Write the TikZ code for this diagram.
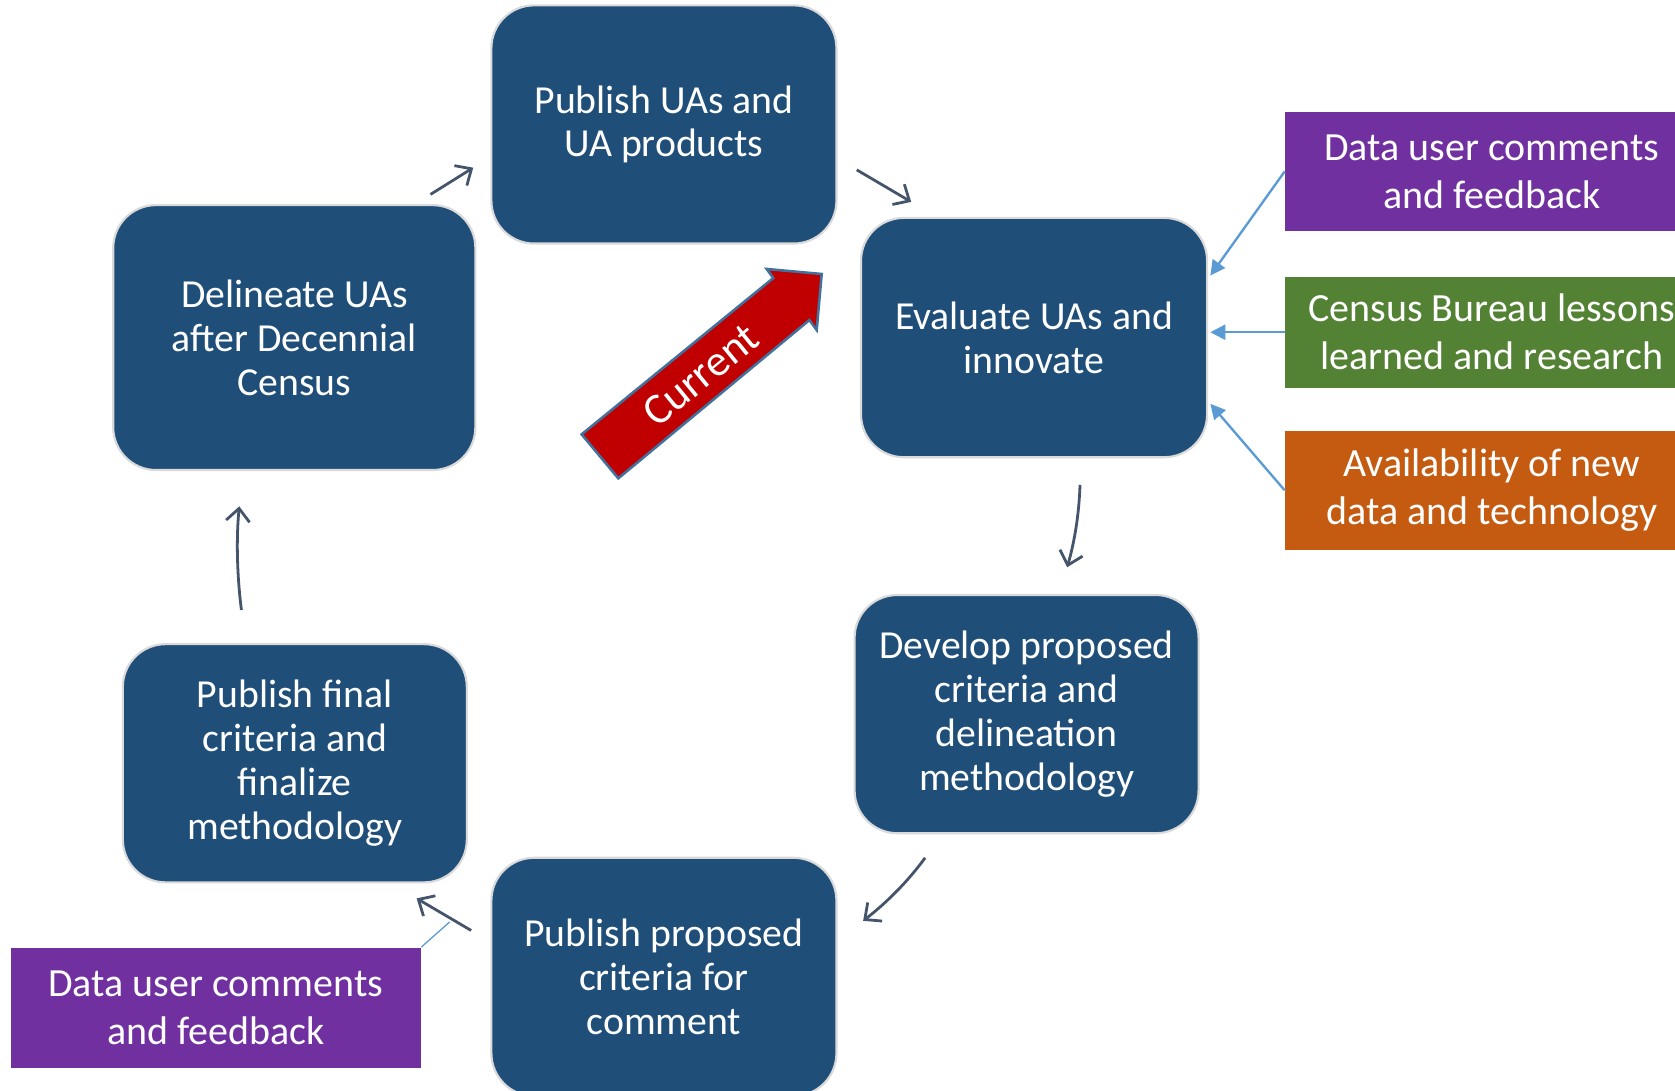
\documentclass[tikz,border=0pt]{standalone}
\usepackage{fontspec}
\setmainfont{Carlito}
\usetikzlibrary{arrows.meta,calc}
\definecolor{boxblue}{HTML}{1F4E79}
\definecolor{boxedge}{HTML}{DADADA}
\definecolor{flowc}{HTML}{44546A}
\definecolor{feedc}{HTML}{5B9BD5}
\definecolor{purp}{HTML}{7030A0}
\definecolor{grn}{HTML}{548235}
\definecolor{orng}{HTML}{C55A11}
\definecolor{curred}{HTML}{C00000}
\definecolor{curedge}{HTML}{41719C}
\tikzset{
  ubox/.style={draw=boxedge, line width=1pt, fill=boxblue, rounded corners=20pt,
    text=white, align=center, font=\fontsize{18.6}{20.5}\selectfont, inner sep=0pt},
  sidebox/.style={text=white, align=center, font=\fontsize{18.7}{22.5}\selectfont, inner sep=0pt},
  flow/.style={draw=flowc, line width=1.3pt, -{Straight Barb[length=6pt,width=11pt]}},
  feed/.style={draw=feedc, line width=1.1pt, -{Triangle[length=7pt,width=7pt]}},
}
\begin{document}
\begin{tikzpicture}[x=0.5pt,y=-0.5pt]
\useasboundingbox (0,0) rectangle (1568,1021);
\clip (0,0) rectangle (1568,1021);
\fill[white] (0,0) rectangle (1568,1021);

% main boxes
\node[ubox, minimum width=161.5pt, minimum height=111.5pt] (pub) at (621.5,116.5) {Publish UAs and\\UA products};
\node[ubox, minimum width=162pt, minimum height=112pt] (ev) at (968,316) {Evaluate UAs and\\innovate};
\node[ubox, minimum width=161pt, minimum height=111.5pt] (dev) at (961,668.5) {Develop proposed\\criteria and\\delineation\\methodology};
\node[ubox, minimum width=161.5pt, minimum height=111.5pt] (pp) at (621.5,914.5) {Publish proposed\\criteria for\\comment};
\node[ubox, minimum width=161pt, minimum height=111.5pt] (pf) at (276,714.5) {Publish final\\criteria and\\finalize\\methodology};
\node[ubox, minimum width=169.5pt, minimum height=124pt] (del) at (275.5,316) {Delineate UAs\\after Decennial\\Census};

% side boxes
\node[sidebox, fill=purp, minimum width=193.5pt, minimum height=55.5pt] (p1) at (1396.5,160.5) {Data user comments\\and feedback};
\node[sidebox, fill=grn, minimum width=193.5pt, minimum height=52pt] (g1) at (1396.5,311) {Census Bureau lessons\\learned and research};
\node[sidebox, fill=orng, minimum width=193.5pt, minimum height=56pt] (o1) at (1396.5,459) {Availability of new\\data and technology};
\node[sidebox, fill=purp, minimum width=192pt, minimum height=56.5pt] (p2) at (202,943.5) {Data user comments\\and feedback};

% feedback arrows
\coordinate (f1) at (1133,258);
\coordinate (f2) at (1133,311);
\coordinate (f3) at (1133,378);
\draw[feed] (p1.west) -- (f1);
\draw[feed] (g1.west) -- (f2);
\draw[feed] (o1.west) -- (f3);

% flow arrows
\coordinate (a1s) at (403,182); \coordinate (a1e) at (443,157);
\coordinate (a2s) at (802,159); \coordinate (a2e) at (853,189);
\coordinate (a3s) at (1011,454); \coordinate (a3e) at (999,531);
\coordinate (a4s) at (866,803); \coordinate (a4e) at (808,862);
\coordinate (a5s) at (441,871); \coordinate (a5e) at (390,841);
\coordinate (a6s) at (226,571); \coordinate (a6e) at (224,474);
\draw[flow] (a1s) -- (a1e);
\draw[flow] (a2s) -- (a2e);
\draw[flow] (a3s) .. controls (1010,485) and (1005,510) .. (a3e);
\draw[flow] (a4s) .. controls (850,825) and (830,845) .. (a4e);
\draw[flow] (a5s) -- (a5e);
\draw[flow] (a6s) .. controls (222,540) and (221,505) .. (a6e);

% thin link from lower purple box
\coordinate (lk) at (421,863);
\draw[feedc, line width=0.6pt] (p2.north east) -- (lk);

% Current arrow
\filldraw[fill=curred, draw=curedge, line width=1.2pt, line join=miter]
  (544.5,406.6) -- (723.9,260.3) -- (717.7,251.8) -- (769.2,256.5)
  -- (764.5,308.9) -- (757.7,299.6) -- (578.8,447.8) -- cycle;
\node[text=white, rotate=39.3, font=\fontsize{20.5}{22}\selectfont, inner sep=0pt] (cur) at (656,351) {Current};
\end{tikzpicture}
\end{document}
